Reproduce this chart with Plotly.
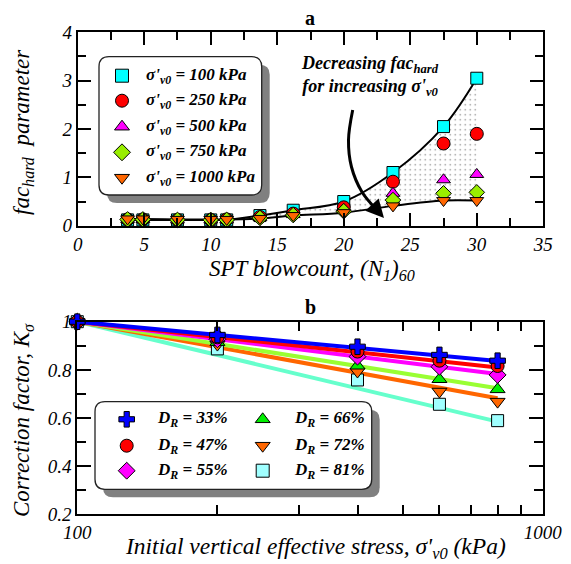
import plotly.graph_objects as go

# ---------------- data: panel a ----------------
N160 = [3.75, 4.9, 7.5, 10.0, 11.2, 13.7, 16.2, 20.0, 23.7, 27.5, 30.0]
fac_100 = [0.12, 0.12, 0.12, 0.12, 0.12, 0.21, 0.32, 0.50, 1.10, 2.05, 3.05]
fac_250 = [0.13, 0.13, 0.12, 0.12, 0.13, 0.18, 0.25, 0.38, 0.91, 1.70, 1.90]
fac_500 = [0.13, 0.13, 0.12, 0.12, 0.12, 0.17, 0.23, 0.33, 0.67, 0.95, 1.06]
fac_750 = [0.13, 0.13, 0.12, 0.12, 0.12, 0.16, 0.22, 0.30, 0.53, 0.67, 0.69]
fac_1000 = [0.14, 0.14, 0.13, 0.13, 0.13, 0.15, 0.21, 0.27, 0.41, 0.52, 0.52]
sigma_labels = ["100", "250", "500", "750", "1000"]

# ---------------- data: panel b ----------------
stress = [100, 200, 400, 600, 800]
K_33 = [1.0, 0.945, 0.896, 0.862, 0.838]
K_47 = [1.0, 0.935, 0.876, 0.838, 0.816]
K_55 = [1.0, 0.927, 0.855, 0.813, 0.779]
K_66 = [1.0, 0.915, 0.817, 0.761, 0.719]
K_72 = [1.0, 0.905, 0.793, 0.710, 0.668]
K_81 = [1.0, 0.887, 0.758, 0.657, 0.589]
fit_stress = [100, 800]
fit_33 = [1.0, 0.837]
fit_47 = [1.0, 0.810]
fit_55 = [1.0, 0.783]
fit_66 = [1.0, 0.724]
fit_72 = [1.0, 0.682]
fit_81 = [1.0, 0.585]
DR_labels = ["33", "47", "55", "66", "72", "81"]

# tick labels
xa_major = [0, 5, 10, 15, 20, 25, 30, 35]
xa_minor = [2.5, 7.5, 12.5, 17.5, 22.5, 27.5, 32.5]
ya_major = [0, 1, 2, 3, 4]
ya_minor = [0.5, 1.5, 2.5, 3.5]
xb_major = [100, 1000]
xb_minor = [200, 300, 400, 500, 600, 700, 800, 900]
yb_major = [0.2, 0.4, 0.6, 0.8, 1.0]
yb_major_text = ["0.2", "0.4", "0.6", "0.8", "1"]
yb_minor = [0.3, 0.5, 0.7, 0.9]

W, H = 571, 564
SERIF = "Liberation Serif, Times New Roman, Times, serif"

fig = go.Figure()

# ---- panel a: curves with dotted fill ----
fig.add_trace(go.Scatter(x=N160, y=fac_1000, mode="lines", line=dict(color="black", width=2, shape="spline"),
                         xaxis="x", yaxis="y", showlegend=False, hoverinfo="skip"))
fig.add_trace(go.Scatter(x=N160, y=fac_100, mode="lines", line=dict(color="black", width=2, shape="spline"),
                         fill="tonexty", fillcolor="white",
                         fillpattern=dict(shape=".", fgcolor="black", bgcolor="white", size=5, solidity=0.07),
                         xaxis="x", yaxis="y", showlegend=False, hoverinfo="skip"))

a_series = [fac_100, fac_250, fac_500, fac_750, fac_1000]
a_symbols = ["square", "circle", "triangle-up", "diamond", "triangle-down"]
a_colors = ["#00FFFF", "#FF0000", "#FF00FF", "#99EE00", "#FF6600"]
a_sizes = [12, 13, 12, 12, 12]
for ys, sym, col, sz in zip(a_series, a_symbols, a_colors, a_sizes):
    fig.add_trace(go.Scatter(x=N160, y=ys, mode="markers",
                             marker=dict(symbol=sym, color=col, size=sz, line=dict(color="black", width=1)),
                             xaxis="x", yaxis="y", showlegend=False, cliponaxis=False))

# ---- panel b ----
b_series = [K_33, K_47, K_55, K_66, K_72, K_81]
b_fits = [fit_33, fit_47, fit_55, fit_66, fit_72, fit_81]
b_line_colors = ["#0000FF", "#FF0000", "#FF00FF", "#99FF33", "#FF6600", "#66FFCC"]
b_symbols = ["cross", "circle", "diamond", "triangle-up", "triangle-down", "square"]
b_colors = ["#0000FF", "#FF0000", "#FF00FF", "#00EE00", "#FF6600", "#A0FFFF"]
b_sizes = [13, 13, 13, 13, 13, 12]
for fy, lc in reversed(list(zip(b_fits, b_line_colors))):
    fig.add_trace(go.Scatter(x=fit_stress, y=fy, mode="lines", line=dict(color=lc, width=4),
                             xaxis="x2", yaxis="y2", showlegend=False, hoverinfo="skip"))
for ys, sym, col, sz in reversed(list(zip(b_series, b_symbols, b_colors, b_sizes))):
    fig.add_trace(go.Scatter(x=stress, y=ys, mode="markers",
                             marker=dict(symbol=sym, color=col, size=sz, line=dict(color="black", width=1)),
                             xaxis="x2", yaxis="y2", showlegend=False, cliponaxis=False))

# ---- overlay pixel axes for legends / arrow ----
arrow_px = [352.7, 348.5, 351.5, 362.0, 376.0]
arrow_py = [110.0, 140.0, 167.0, 192.0, 209.0]
fig.add_trace(go.Scatter(x=arrow_px, y=arrow_py, mode="lines", line=dict(color="black", width=3, shape="spline"),
                         xaxis="x3", yaxis="y3", showlegend=False, hoverinfo="skip"))

# legend a markers
la_x, la_text_x = 122, 144
la_rows = [75.7, 100.7, 126.7, 152.3, 177.7]
for r, sym, col, lab in zip(la_rows, a_symbols, a_colors, sigma_labels):
    fig.add_trace(go.Scatter(x=[la_x], y=[r], mode="markers",
                             marker=dict(symbol=sym, color=col, size=13, line=dict(color="black", width=1)),
                             xaxis="x3", yaxis="y3", showlegend=False, hoverinfo="skip"))

# legend b markers
lb_cols = [126.7, 262.7]
lb_text_cols = [155, 291.5]
lb_rows = [419.3, 445.7, 470.7]
for i, (sym, col, lab) in enumerate(zip(b_symbols, b_colors, DR_labels)):
    c, r = divmod(i, 3)
    fig.add_trace(go.Scatter(x=[lb_cols[c]], y=[lb_rows[r]], mode="markers",
                             marker=dict(symbol=sym, color=col, size=13,
                                         line=dict(color="black", width=1)),
                             xaxis="x3", yaxis="y3", showlegend=False, hoverinfo="skip"))

annotations = []
for r, lab in zip(la_rows, sigma_labels):
    annotations.append(dict(xref="x3", yref="y3", x=la_text_x, y=r, xanchor="left", yanchor="middle",
                            text="<b><i>σ'<sub>v0</sub> = %s kPa</i></b>" % lab, showarrow=False,
                            font=dict(family=SERIF, size=17, color="black")))
for i, lab in enumerate(DR_labels):
    c, r = divmod(i, 3)
    annotations.append(dict(xref="x3", yref="y3", x=lb_text_cols[c], y=lb_rows[r], xanchor="left", yanchor="middle",
                            text="<b><i>D<sub>R</sub> = %s%%</i></b>" % lab, showarrow=False,
                            font=dict(family=SERIF, size=17, color="black")))

# arrowhead
annotations.append(dict(xref="x3", yref="y3", axref="x3", ayref="y3", x=384, y=218, ax=375, ay=208,
                        text="", showarrow=True, arrowhead=2, arrowsize=1.2, arrowwidth=3, arrowcolor="black"))
# callout text
annotations.append(dict(xref="x3", yref="y3", x=370, y=76, xanchor="center", yanchor="middle", align="center",
                        text="<b><i>Decreasing fac<sub>hard</sub><br>for increasing σ'<sub>v0</sub></i></b>",
                        showarrow=False, font=dict(family=SERIF, size=18, color="black")))
# titles
annotations.append(dict(xref="x3", yref="y3", x=310, y=18, text="<b>a</b>", showarrow=False,
                        font=dict(family=SERIF, size=20, color="black")))
annotations.append(dict(xref="x3", yref="y3", x=310, y=307, text="<b>b</b>", showarrow=False,
                        font=dict(family=SERIF, size=20, color="black")))
# axis titles
annotations.append(dict(xref="x3", yref="y3", x=312, y=270, text="<i>SPT blowcount, (N<sub>1</sub>)<sub>60</sub></i>",
                        showarrow=False, font=dict(family=SERIF, size=23, color="black")))
annotations.append(dict(xref="x3", yref="y3", x=23, y=132, textangle=-90,
                        text="<i>fac<sub>hard</sub>\u00a0 parameter</i>",
                        showarrow=False, font=dict(family=SERIF, size=23, color="black")))
annotations.append(dict(xref="x3", yref="y3", x=315, y=548,
                        text="<i>Initial vertical effective stress, σ'<sub>v0</sub> (kPa)</i>",
                        showarrow=False, font=dict(family=SERIF, size=23.5, color="black")))
annotations.append(dict(xref="x3", yref="y3", x=23, y=420, textangle=-90,
                        text="<i>Correction factor, K<sub>σ</sub></i>",
                        showarrow=False, font=dict(family=SERIF, size=23, color="black")))


def rrect(x0, y0, x1, y1, r):
    return ("M %f,%f L %f,%f Q %f,%f %f,%f L %f,%f Q %f,%f %f,%f L %f,%f Q %f,%f %f,%f L %f,%f Q %f,%f %f,%f Z" %
            (x0 + r, y0, x1 - r, y0, x1, y0, x1, y0 + r, x1, y1 - r, x1, y1, x1 - r, y1,
             x0 + r, y1, x0, y1, x0, y1 - r, x0, y0 + r, x0, y0, x0 + r, y0))


shapes = []
for (x0, y0, x1, y1) in [(99, 56.7, 261.7, 195), (95, 401.7, 371.7, 489.3)]:
    shapes.append(dict(type="path", xref="x3", yref="y3", path=rrect(x0 + 8, y0 + 8, x1 + 8, y1 + 8, 10),
                       fillcolor="#808080", line=dict(width=0), layer="below"))
    shapes.append(dict(type="path", xref="x3", yref="y3", path=rrect(x0, y0, x1, y1, 10),
                       fillcolor="white", line=dict(color="#222222", width=1.3), layer="below"))

tickfont = dict(family=SERIF, size=19, color="black", style="italic")
common = dict(showline=True, linewidth=2, linecolor="black", mirror="ticks", ticks="inside",
              tickwidth=1.5, tickcolor="black", showgrid=False, zeroline=False, tickfont=tickfont,
              automargin=False, tickmode="array")


def minor(vals, ln):
    return dict(tickvals=vals, ticks="inside", ticklen=ln, tickwidth=1.5, tickcolor="black", showgrid=False)


fig.update_layout(
    width=W, height=H, margin=dict(l=0, r=0, t=0, b=0, autoexpand=False),
    paper_bgcolor="white", plot_bgcolor="rgba(0,0,0,0)",
    font=dict(family=SERIF),
    xaxis=dict(domain=[77.7 / W, 543.3 / W], anchor="y", range=[0, 35], tickvals=xa_major,
               ticktext=[str(v) for v in xa_major], ticklen=13, minor=minor(xa_minor, 8), **common),
    yaxis=dict(domain=[1 - 225.7 / H, 1 - 32.3 / H], anchor="x", range=[0, 4], tickvals=ya_major,
               ticktext=[str(v) for v in ya_major], ticklen=13, minor=minor(ya_minor, 8), **common),
    xaxis2=dict(domain=[77.3 / W, 542.7 / W], anchor="y2", type="log", range=[2, 3], tickvals=xb_major,
                ticktext=[str(v) for v in xb_major], ticklen=9, minor=minor(xb_minor, 9), **common),
    yaxis2=dict(domain=[1 - 514.3 / H, 1 - 321.7 / H], anchor="x2", range=[0.2, 1.0], tickvals=yb_major,
                ticktext=yb_major_text, ticklen=14, minor=minor(yb_minor, 9), **common),
    xaxis3=dict(domain=[0, 1], anchor="y3", range=[0, W], visible=False, fixedrange=True, automargin=False),
    yaxis3=dict(domain=[0, 1], anchor="x3", range=[H, 0], visible=False, fixedrange=True, automargin=False),
    annotations=annotations, shapes=shapes, showlegend=False,
)

fig.write_html("out.html")
